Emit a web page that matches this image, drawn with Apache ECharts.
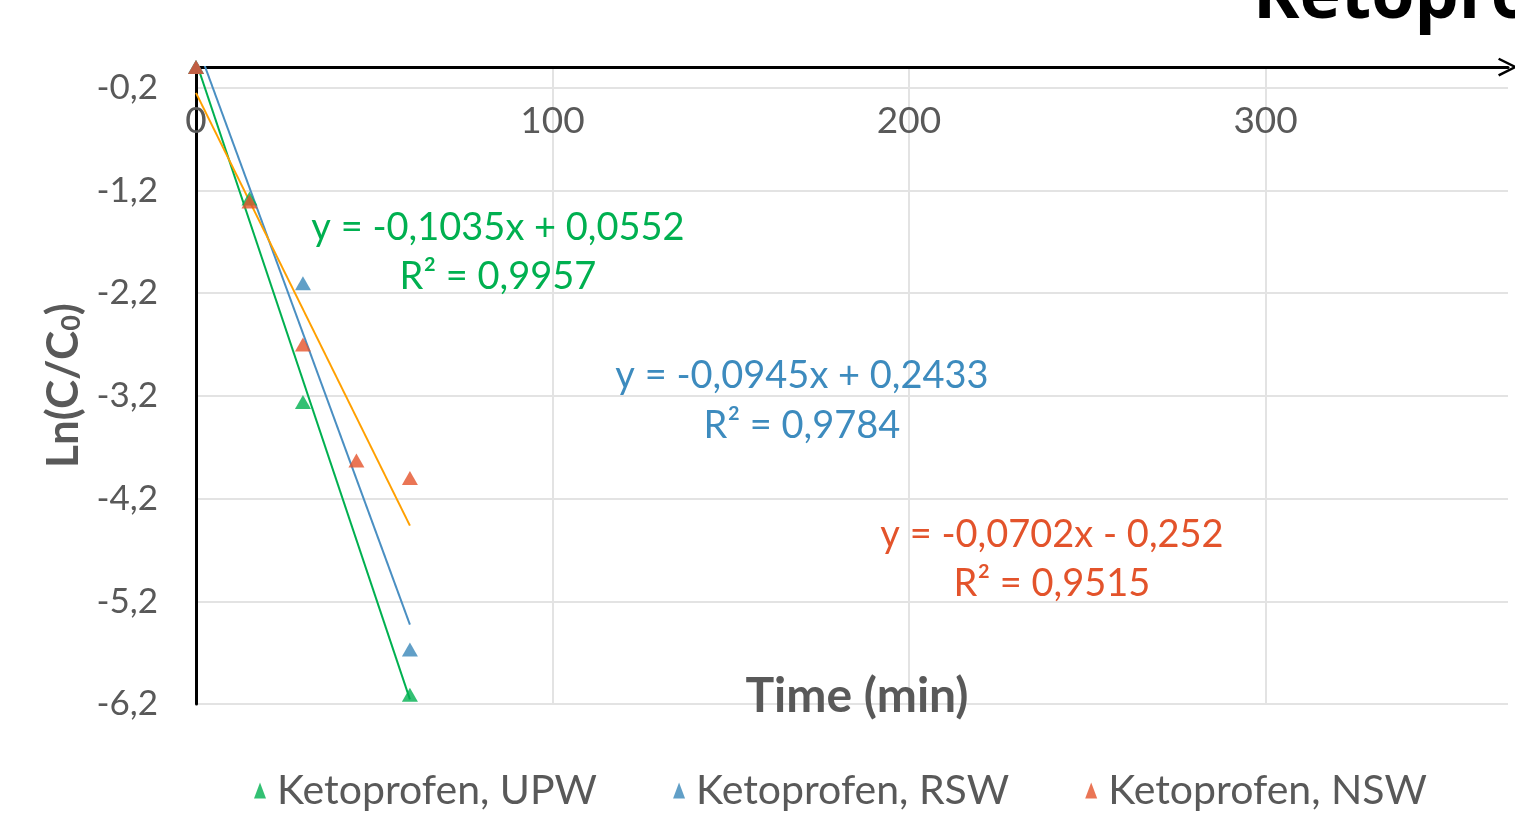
<!DOCTYPE html>
<html>
<head>
<meta charset="utf-8">
<script src="https://cdn.jsdelivr.net/npm/echarts@6/dist/echarts.min.js"></script>
<style>
  html, body { margin: 0; padding: 0; background: #fff; }
  #chart { width: 1515px; height: 822px; }
</style>
</head>
<body>
<div id="chart"></div>
<script>
// data
const seriesNames = ['Ketoprofen, UPW', 'Ketoprofen, RSW', 'Ketoprofen, NSW'];
const upwTime = [0, 15, 30, 60];
const upwLn = [0, -1.28, -3.26, -6.11];
const rswTime = [0, 30, 60];
const rswLn = [0, -2.105, -5.67];
const nswTime = [0, 15, 30, 45, 60];
const nswLn = [0, -1.31, -2.70, -3.83, -4.00];
// trendline equations as printed on the chart
const slopes = [-0.1035, -0.0945, -0.0702];
const intercepts = [0.0552, 0.2433, -0.252];
const r2 = [0.9957, 0.9784, 0.9515];
const trendEnd = 60;
const xTicks = [0, 100, 200, 300];

const markerColors = ['#00B050', '#3A87B9', '#E5532B'];
const trendColors = ['#00B050', '#4A8FC2', '#FFA000'];
const textColors = ['#00B050', '#3D8BBE', '#E3532B'];

const fmt = v => String(v).replace('.', ',');

function pairs(xs, ys) {
  return xs.map((x, i) => [x, ys[i]]);
}

const pointSets = [pairs(upwTime, upwLn), pairs(rswTime, rswLn), pairs(nswTime, nswLn)];

let charts = echarts.init(document.getElementById('chart'));

const series = [];
pointSets.forEach((pts, i) => {
  series.push({
    name: 'trend' + i,
    type: 'line',
    data: [[0, intercepts[i]], [trendEnd, intercepts[i] + slopes[i] * trendEnd]],
    showSymbol: false,
    symbol: 'none',
    lineStyle: { color: trendColors[i], width: 2 },
    z: 2,
    silent: true
  });
});
pointSets.forEach((pts, i) => {
  series.push({
    name: seriesNames[i],
    type: 'scatter',
    data: pts,
    symbol: 'triangle',
    symbolSize: [16, 14],
    itemStyle: { color: markerColors[i] },
    clip: false,
    z: 5
  });
});

const eqPos = [[498, 228, 277], [802, 376, 426], [1052, 535, 584]];
const graphics = [];
eqPos.forEach((p, i) => {
  const b = intercepts[i];
  const sign = b < 0 ? '- ' : '+ ';
  graphics.push({
    type: 'text', x: p[0], y: p[1], z: 100,
    style: {
      text: 'y = ' + fmt(slopes[i]) + 'x ' + sign + fmt(Math.abs(b)),
      fill: textColors[i], font: '38px Lato', align: 'center', verticalAlign: 'middle'
    }
  });
  graphics.push({
    type: 'text', x: p[0], y: p[2], z: 100,
    style: {
      text: 'R² = ' + fmt(r2[i]),
      fill: textColors[i], font: '38px Lato', align: 'center', verticalAlign: 'middle'
    }
  });
});
graphics.push({
  type: 'text', x: 857, y: 697, z: 100,
  style: { text: 'Time (min)', fill: '#595959', font: 'bold 48px Lato', align: 'center', verticalAlign: 'middle' }
});
graphics.push({
  type: 'text', x: 1253, y: 33, z: 100,
  style: { text: 'Ketoprofen', fill: '#000', font: 'bold 70px "Open Sans"', align: 'left', verticalAlign: 'bottom' }
});

const chevron = 'path://M0,12 L6,0 L12,12 L10.6,12.8 L6,3.4 L1.4,12.8 Z';

let option = {
  animation: false,
  grid: { left: 196, top: 67, right: 7, bottom: 118 },
  legend: {
    data: seriesNames,
    bottom: 6,
    left: 249,
    icon: 'triangle',
    itemWidth: 12,
    itemHeight: 16,
    itemGap: 76,
    textStyle: { fontFamily: 'Lato', fontSize: 41, color: '#595959', padding: [0, 0, 0, 6] }
  },
  xAxis: {
    type: 'value',
    position: 'top',
    min: 0,
    max: 368,
    interval: 100,
    axisLine: {
      show: true, onZero: false,
      lineStyle: { color: '#000', width: 3 },
      symbol: ['none', chevron], symbolSize: [22, 20], symbolOffset: [0, 0]
    },
    axisTick: { show: false },
    axisLabel: {
      inside: true, margin: 36,
      fontFamily: 'Lato', fontSize: 37, color: '#595959',
      formatter: v => (xTicks.indexOf(v) >= 0 ? String(v) : '')
    },
    splitLine: { show: true, showMaxLine: false, lineStyle: { color: '#E3E3E3', width: 2 } }
  },
  yAxis: {
    type: 'value',
    min: -6.2,
    max: 0,
    interval: 1,
    name: '{a|Ln(C/C}{b|0}{a|)}',
    nameLocation: 'middle',
    nameRotate: 90,
    nameGap: 108,
    nameTextStyle: {
      rich: {
        a: { fontFamily: 'Lato', fontWeight: 'bold', fontSize: 44, color: '#595959' },
        b: { fontFamily: 'Lato', fontWeight: 'bold', fontSize: 27, color: '#595959', padding: [16, 0, 0, 0] }
      }
    },
    axisLine: {
      show: true, onZero: false,
      lineStyle: { color: '#000', width: 3 },
      symbol: ['none', chevron], symbolSize: [14, 12]
    },
    axisTick: { show: false },
    axisLabel: {
      margin: 38, showMaxLabel: false,
      fontFamily: 'Lato', fontSize: 35, color: '#595959',
      formatter: v => fmt(Math.round(v * 10) / 10)
    },
    splitLine: { show: true, showMaxLine: false, lineStyle: { color: '#E3E3E3', width: 2 } }
  },
  graphic: graphics,
  series: series
};
charts.setOption(option);
</script>
</body>
</html>
